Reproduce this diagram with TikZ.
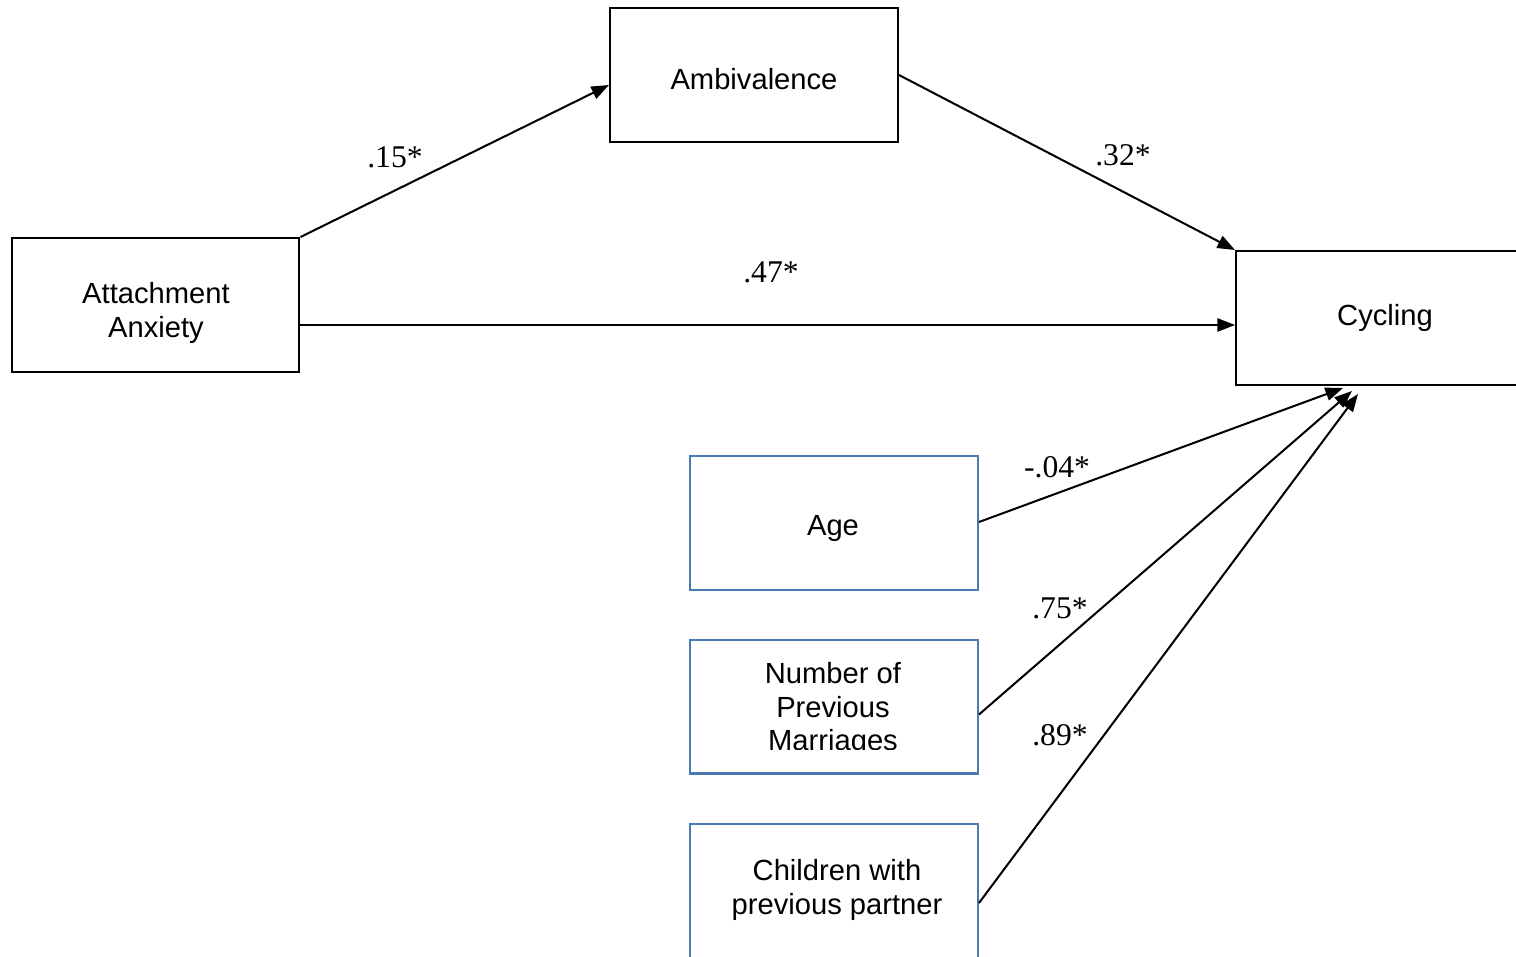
\documentclass[tikz,border=0pt]{standalone}
\usepackage{fontspec}
\setmainfont{Liberation Sans}
\newfontfamily\lblfont{Liberation Serif}
\usetikzlibrary{arrows.meta,calc}
\definecolor{boxblue}{RGB}{74,122,175}
\begin{document}
\begin{tikzpicture}[x=0.02cm,y=-0.02cm,
  every node/.style={font=\fontsize{16.6}{19.3}\selectfont},
  blackbox/.style={draw=black,line width=1.15pt,minimum width=5.76cm,minimum height=2.68cm,inner sep=0pt},
  bluebox/.style={draw=boxblue,line width=1.15pt,minimum width=5.76cm,minimum height=2.68cm,inner sep=0pt},
  boxtext/.style={align=center,inner sep=0pt},
  arr/.style={line width=1.15pt,-{Triangle[length=10pt,width=7.5pt]}},
  coef/.style={font=\lblfont\fontsize{18}{20}\selectfont,inner sep=0pt}]
\useasboundingbox (0,0) rectangle (1516,957);
\begin{scope}
\clip (0,0) rectangle (1516,957);
\node[blackbox] (att) at (155.5,305) {};
\node[blackbox] (amb) at (754,75) {};
\node[blackbox,minimum width=5.96cm] (cyc) at (1385,318) {};
\node[bluebox] (age) at (834,523) {};
\node[bluebox] (mar) at (834,706.5) {};
\node[bluebox] (chi) at (834,891) {};
\end{scope}
\node[boxtext] (atttext) at (156,313) {Attachment\\Anxiety};
\node[boxtext] (ambtext) at (754,79) {Ambivalence};
\node[boxtext] (cyctext) at (1385,318) {Cycling};
\node[boxtext] (agetext) at (833,528) {Age};
\begin{scope}
\clip (690,640) rectangle (978,749);
\node[boxtext] (martext) at (833,709.5) {Number of\\Previous\\Marriages};
\end{scope}
\node[boxtext] (chitext) at (837,890) {Children with\\previous partner};
% coefficients
\node[coef] (l15) at (395,157) {.15*};
\node[coef] (l32) at (1123,155) {.32*};
\node[coef] (l47) at (771,272) {.47*};
\node[coef] (l04) at (1057,467) {-.04*};
\node[coef] (l75) at (1060,608) {.75*};
\node[coef] (l89) at (1060,735) {.89*};
% connectors
\coordinate (ambin) at ($(amb.west)+(0,10)$);
\draw[arr] (att.north east) -- (ambin);
\draw[arr] (amb.east) -- (cyc.north west);
\coordinate (attout) at ($(att.east)+(0,20)$);
\draw[arr] (attout) -- (attout -| cyc.west);
\coordinate (tipage) at ($(cyc.south)+(-42,2)$);
\coordinate (tipmar) at ($(cyc.south)+(-33,5)$);
\coordinate (tipchi) at ($(cyc.south)+(-27,8)$);
\draw[arr] ($(age.east)+(0,-1)$) -- (tipage);
\draw[arr] ($(mar.east)+(0,8)$) -- (tipmar);
\draw[arr] ($(chi.east)+(0,12)$) -- (tipchi);
\end{tikzpicture}
\end{document}
